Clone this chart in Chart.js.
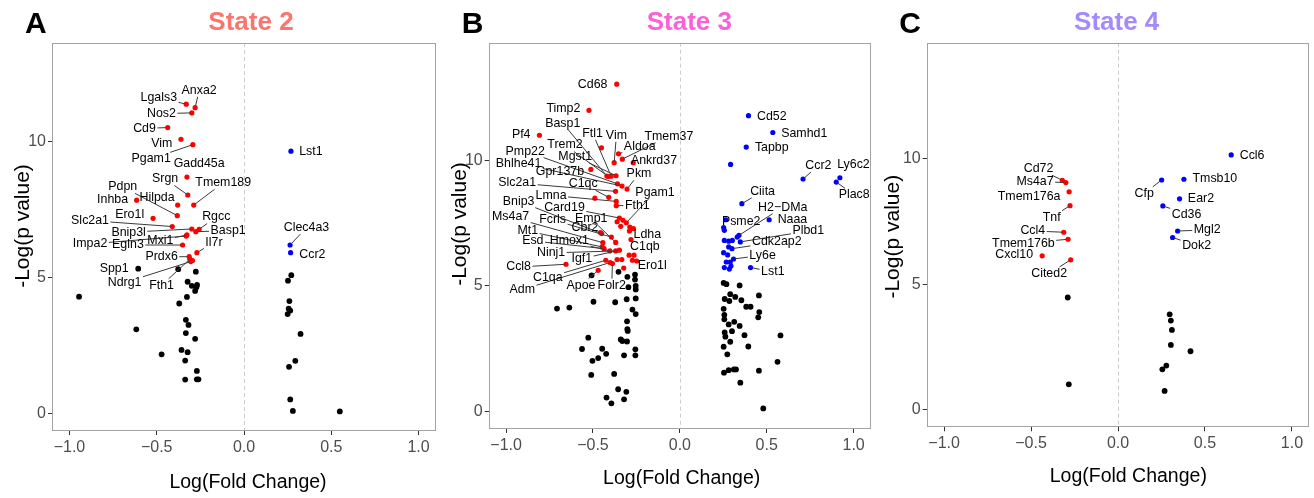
<!DOCTYPE html>
<html>
<head>
<meta charset="utf-8">
<script src="https://cdn.jsdelivr.net/npm/chart.js@4.4.1/dist/chart.umd.min.js"></script>
<style>
  html, body { margin: 0; padding: 0; background: #fff; }
  body { width: 1314px; height: 498px; position: relative; overflow: hidden; }
  .panel { position: absolute; top: 0; height: 498px; }
  canvas { display: block; }
</style>
</head>
<body>
<div class="panel" style="left:0px;width:440px"><canvas id="ca" width="440" height="498"></canvas></div>
<div class="panel" style="left:440px;width:435px"><canvas id="cb" width="435" height="498"></canvas></div>
<div class="panel" style="left:875px;width:439px"><canvas id="cc" width="439" height="498"></canvas></div>
<script>
// ---------------- DATA ----------------
const xTicks = [-1, -0.5, 0, 0.5, 1];
const yTicks = [0, 5, 10];

// State 2 : [gene, logFC, -log p]
const s2Down = [
  ['Lgals3',-0.331,11.39],['Anxa2',-0.280,11.26],['Nos2',-0.299,11.07],['Cd9',-0.437,10.53],
  ['Vim',-0.361,10.10],['Pgam1',-0.293,9.90],['Gadd45a',-0.327,8.71],['Srgn',-0.322,8.05],
  ['Tmem189',-0.288,7.68],['Hilpda',-0.380,7.68],['Inhba',-0.615,7.86],['Pdpn',-0.382,7.29],
  ['Ero1l',-0.521,7.19],['Slc2a1',-0.411,6.89],['Bnip3l',-0.299,6.80],['Basp1',-0.276,6.70],
  ['Rgcc',-0.257,6.79],['Mxi1',-0.327,6.58],['Impa2',-0.332,6.54],['Egln3',-0.352,6.21],
  ['Il7r',-0.270,5.93],['Prdx6',-0.314,5.78],['Fth1',-0.310,5.69],['',-0.295,5.64],['Ndrg1',-0.305,5.60]
];
const s2Up = [['Lst1',0.269,9.66],['Clec4a3',0.264,6.21],['Ccr2',0.267,5.93]];
const s2NS = [
  ['Spp1',-0.606,5.34],['',-0.377,5.32],['',-0.276,5.23],['',-0.323,4.86],['',-0.299,4.71],
  ['',-0.269,4.74],['',-0.273,4.66],['',-0.280,4.52],['',-0.945,4.31],['',-0.327,4.30],
  ['',-0.371,4.06],['',-0.333,3.46],['',-0.318,3.27],['',-0.617,3.11],['',-0.333,2.97],
  ['',-0.280,2.76],['',-0.358,2.35],['',-0.323,2.27],['',-0.472,2.19],['',-0.337,1.96],
  ['',-0.270,1.58],['',-0.337,1.26],['',-0.270,1.27],['',-0.261,1.27],
  ['',0.271,5.10],['',0.252,4.90],['',0.260,4.15],['',0.256,3.87],['',0.265,3.80],
  ['',0.250,3.67],['',0.324,2.94],['',0.294,1.95],['',0.258,1.73],['',0.265,0.53],
  ['',0.280,0.11],['',0.549,0.09]
];

// State 3
const s3Down = [
  ['Cd68',-0.363,13.02],['Timp2',-0.523,11.98],['Pf4',-0.808,10.99],['',-0.451,10.49],
  ['Aldoa',-0.353,10.25],['Tmem37',-0.331,10.04],['Vim',-0.378,9.90],['Ankrd37',-0.268,9.90],
  ['Gpr137b',-0.512,9.63],['Basp1',-0.420,9.37],['Trem2',-0.412,9.35],['Ftl1',-0.395,9.36],
  ['Mgst1',-0.367,9.38],['Pmp22',-0.359,9.06],['Bhlhe41',-0.333,8.97],['Pkm',-0.304,8.85],
  ['Slc2a1',-0.370,8.76],['C1qc',-0.409,8.52],['',-0.489,8.49],['Lmna',-0.366,8.36],
  ['Fth1',-0.366,8.19],['Card19',-0.348,7.70],['',-0.327,7.61],['Pgam1',-0.308,7.51],
  ['',-0.288,7.34],['',-0.267,7.28],['',-0.361,7.55],['',-0.340,7.37],['Ldha',-0.290,7.18],
  ['Cbr2',-0.457,7.12],['Bnip3',-0.450,7.08],['Fcrls',-0.394,6.94],['Emp1',-0.369,6.73],
  ['C1qb',-0.281,6.84],['Ms4a7',-0.443,6.72],['Mt1',-0.447,6.55],['Esd',-0.436,6.48],
  ['Hmox1',-0.403,6.39],['Ninj1',-0.369,6.39],['Igf1',-0.348,6.42],['Ccl8',-0.655,5.86],
  ['',-0.292,6.22],['',-0.264,6.22],['C1qa',-0.426,6.02],['Adm',-0.401,5.93],['Folr2',-0.388,5.89],
  ['',-0.361,6.05],['',-0.334,6.05],['',-0.273,6.02],['Ero1l',-0.248,5.99],['',-0.323,5.71],
  ['Apoe',-0.470,5.62]
];
const s3Up = [
  ['Cd52',0.395,11.77],['Samhd1',0.535,11.10],['Tapbp',0.382,10.52],['',0.292,9.83],
  ['Ccr2',0.709,9.25],['Ly6c2',0.921,9.30],['Plac8',0.900,9.13],['Ciita',0.357,8.27],
  ['Naaa',0.514,7.63],['Psme2',0.264,7.63],['',0.252,7.32],['',0.256,7.21],['',0.256,6.81],
  ['',0.281,6.78],['',0.302,6.81],['',0.330,6.94],['H2\u2212DMa',0.340,7.01],['Plbd1',0.348,6.75],
  ['',0.281,6.55],['Cdk2ap2',0.300,6.48],['',0.252,6.32],['',0.275,6.23],['Ly6e',0.309,6.07],
  ['',0.267,5.95],['',0.290,5.95],['',0.256,5.73],['',0.285,5.67],['',0.294,5.79],['Lst1',0.407,5.73]
];
const s3NS = [
  ['',-0.508,5.42],['',-0.353,5.56],['',-0.302,5.36],['',-0.258,5.45],['',-0.258,5.25],
  ['',-0.296,4.95],['',-0.254,5.00],['',-0.254,4.86],['',-0.254,4.50],['',-0.306,4.47],
  ['',-0.707,4.10],['',-0.636,4.14],['',-0.497,4.37],['',-0.372,4.35],['',-0.273,4.06],
  ['',-0.254,3.88],['',-0.304,3.59],['',-0.302,3.28],['',-0.300,3.21],['',-0.527,2.94],
  ['',-0.340,2.87],['',-0.331,2.81],['',-0.304,2.79],['',-0.256,2.48],['',-0.256,2.24],
  ['',-0.563,2.49],['',-0.447,2.50],['',-0.424,2.30],['',-0.470,2.13],['',-0.503,2.02],
  ['',-0.321,2.24],['',-0.510,1.46],['',-0.378,1.50],['',-0.355,0.89],['',-0.308,0.79],
  ['',-0.422,0.56],['',-0.394,0.33],['',-0.321,0.49],
  ['',0.252,5.12],['',0.268,5.07],['',0.344,5.02],['',0.290,4.67],['',0.319,4.56],
  ['',0.258,4.48],['',0.285,4.40],['',0.354,4.43],['',0.455,4.62],['',0.382,4.17],
  ['',0.407,4.17],['',0.252,4.09],['',0.457,3.96],['',0.451,3.75],['',0.256,3.85],
  ['',0.256,3.67],['',0.281,3.47],['',0.313,3.57],['',0.344,3.41],['',0.258,3.15],
  ['',0.262,2.98],['',0.300,3.20],['',0.372,3.04],['',0.579,3.03],['',0.290,2.78],
  ['',0.252,2.58],['',0.394,2.59],['',0.273,2.28],['',0.562,1.98],['',0.254,1.55],
  ['',0.281,1.65],['',0.311,1.68],['',0.323,1.68],['',0.455,1.63],['',0.348,1.15],
  ['',0.480,0.13]
];

// State 4
const s4Down = [
  ['Cd72',-0.320,9.15],['Ms4a7',-0.300,9.06],['Tmem176a',-0.281,8.69],['Tnf',-0.276,8.14],
  ['Ccl4',-0.312,7.08],['Tmem176b',-0.287,6.80],['Cxcl10',-0.436,6.14],['Cited2',-0.272,5.98]
];
const s4Up = [
  ['Ccl6',0.651,10.16],['Tmsb10',0.379,9.19],['Cfp',0.251,9.16],['Ear2',0.354,8.41],
  ['Cd36',0.258,8.13],['Mgl2',0.343,7.13],['Dok2',0.314,6.87]
];
const s4NS = [
  ['',-0.289,4.48],['',-0.283,1.02],['',0.297,3.81],['',0.304,3.56],['',0.310,3.19],
  ['',0.304,2.59],['',0.417,2.34],['',0.278,1.77],['',0.255,1.62],['',0.268,0.76]
];

// ---------------- LABEL LAYOUT (label centre in data units, draw segment flag) ----------------
const s2LabelPos = {
  Lgals3:[-0.488,11.63,1], Anxa2:[-0.257,11.90,1], Nos2:[-0.473,11.04,1], Cd9:[-0.570,10.50,1],
  Vim:[-0.471,9.93,0], Pgam1:[-0.532,9.38,1], Gadd45a:[-0.257,9.20,0], Srgn:[-0.452,8.64,1],
  Tmem189:[-0.119,8.50,1], Pdpn:[-0.695,8.35,1], Inhba:[-0.753,7.87,0], Hilpda:[-0.498,7.95,0],
  Ero1l:[-0.655,7.32,0], Slc2a1:[-0.882,7.11,1], Rgcc:[-0.159,7.24,1], Bnip3l:[-0.661,6.68,1],
  Basp1:[-0.091,6.74,1], Impa2:[-0.882,6.25,1], Egln3:[-0.665,6.21,1], Mxi1:[-0.479,6.37,1],
  Il7r:[-0.172,6.30,1], Prdx6:[-0.472,5.78,1], Spp1:[-0.744,5.34,0], Ndrg1:[-0.684,4.83,1],
  Fth1:[-0.472,4.73,1], Lst1:[0.383,9.64,0], Clec4a3:[0.358,6.85,1], Ccr2:[0.392,5.86,0]
};
const s3LabelPos = {
  Cd68:[-0.502,13.02,0], Timp2:[-0.670,12.06,0], Pf4:[-0.913,11.03,0], Basp1:[-0.674,11.47,1],
  Ftl1:[-0.502,11.07,1], Vim:[-0.365,10.99,1], Tmem37:[-0.063,10.95,1], Aldoa:[-0.231,10.52,1],
  Ankrd37:[-0.149,9.99,1], Trem2:[-0.661,10.60,1], Pmp22:[-0.890,10.36,1], Mgst1:[-0.602,10.15,1],
  Bhlhe41:[-0.928,9.88,1], Gpr137b:[-0.690,9.56,0], Pkm:[-0.235,9.46,1], C1qc:[-0.556,9.06,1],
  Slc2a1:[-0.936,9.09,1], Lmna:[-0.741,8.60,1], Bnip3:[-0.928,8.37,1], Card19:[-0.664,8.13,1],
  Pgam1:[-0.143,8.73,1], Fth1:[-0.245,8.20,1], Ms4a7:[-0.974,7.74,1], Fcrls:[-0.732,7.63,1],
  Emp1:[-0.510,7.66,1], Cbr2:[-0.546,7.33,1], Mt1:[-0.875,7.18,1], Esd:[-0.846,6.79,1],
  Hmox1:[-0.636,6.79,1], Ninj1:[-0.741,6.31,1], Igf1:[-0.564,6.08,1], Ccl8:[-0.928,5.75,1],
  C1qa:[-0.760,5.33,1], Adm:[-0.907,4.85,1], Apoe:[-0.569,5.03,1], Folr2:[-0.392,5.03,1],
  Ldha:[-0.187,7.04,1], C1qb:[-0.201,6.55,1], Ero1l:[-0.159,5.79,1],
  Cd52:[0.529,11.75,0], Samhd1:[0.716,11.07,0], Tapbp:[0.529,10.48,0], Ccr2:[0.797,9.78,1],
  Ly6c2:[0.999,9.81,0], Plac8:[1.003,8.62,1], Ciita:[0.476,8.76,1], 'H2\u2212DMa':[0.592,8.13,1],
  Naaa:[0.648,7.65,0], Psme2:[0.353,7.54,0], Plbd1:[0.739,7.18,1], Cdk2ap2:[0.558,6.75,1],
  Ly6e:[0.476,6.22,1], Lst1:[0.535,5.56,1]
};
const s4LabelPos = {
  Cd72:[-0.457,9.61,1], Ms4a7:[-0.477,9.10,1], Tmem176a:[-0.511,8.50,0], Tnf:[-0.381,7.68,1],
  Ccl4:[-0.490,7.13,1], Tmem176b:[-0.544,6.64,1], Cxcl10:[-0.597,6.18,0], Cited2:[-0.396,5.44,1],
  Ccl6:[0.771,10.15,0], Tmsb10:[0.557,9.20,0], Cfp:[0.151,8.63,1], Ear2:[0.477,8.41,0],
  Cd36:[0.394,7.80,1], Mgl2:[0.513,7.17,1], Dok2:[0.452,6.55,1]
};

// ---------------- STYLE / LAYOUT ----------------
const FONT = '"Liberation Sans", Arial, Helvetica, sans-serif';
const LABEL_FONT = '12.4px ' + FONT;
Chart.defaults.font.family = FONT;

const panels = [
  { canvas:'ca', title:'State 2', titleColor:'#F8766D', letter:'A',
    down:s2Down, up:s2Up, ns:s2NS, labels:s2LabelPos, ymin:-0.63, ymax:13.64,
    pad:{left:0,right:2,top:43,bottom:0}, yW:52, xH:67,
    letterX:25, titleX:251, xTitleX:248, xTitleY:487.5, yTitleX:29, yTitleY:226 },
  { canvas:'cb', title:'State 3', titleColor:'#FB61D7', letter:'B',
    down:s3Down, up:s3Up, ns:s3NS, labels:s3LabelPos, ymin:-0.69, ymax:14.67,
    pad:{left:0,right:1.7,top:42.7,bottom:0}, yW:48.7, xH:69,
    letterX:21.7, titleX:249.3, xTitleX:241.7, xTitleY:484, yTitleX:25.6, yTitleY:224 },
  { canvas:'cc', title:'State 4', titleColor:'#A58AFF', letter:'C',
    down:s4Down, up:s4Up, ns:s4NS, labels:s4LabelPos, ymin:-0.69, ymax:14.63,
    pad:{left:0,right:4.7,top:42.7,bottom:0}, yW:51.7, xH:70.7,
    letterX:24.3, titleX:241.7, xTitleX:253.3, xTitleY:482.3, yTitleX:23.9, yTitleY:236.7 }
];

function toXY(group) { return group.map(p => ({x: p[1], y: p[2]})); }

function makePanelPlugin(cfg) {
  return {
    id: 'panel' + cfg.letter,
    beforeDatasetsDraw(chart) {
      const {ctx, chartArea: a} = chart;
      const x0 = Math.round(chart.scales.x.getPixelForValue(0)) + 0.5;
      ctx.save();
      ctx.strokeStyle = '#cccccc'; ctx.lineWidth = 1; ctx.setLineDash([4, 3]);
      ctx.beginPath(); ctx.moveTo(x0, a.top); ctx.lineTo(x0, a.bottom); ctx.stroke();
      ctx.restore();
    },
    afterDatasetsDraw(chart) {
      const {ctx} = chart;
      const xs = chart.scales.x, ys = chart.scales.y;
      const pts = {};
      [cfg.ns, cfg.down, cfg.up].forEach(g => g.forEach(p => { if (p[0]) pts[p[0]] = p; }));
      ctx.save();
      ctx.font = LABEL_FONT;
      const items = Object.keys(cfg.labels).map(name => {
        const p = pts[name], L = cfg.labels[name];
        return { name, px: xs.getPixelForValue(p[1]), py: ys.getPixelForValue(p[2]),
                 lx: xs.getPixelForValue(L[0]), ly: ys.getPixelForValue(L[1]),
                 seg: L[2], w: ctx.measureText(name).width };
      });
      ctx.strokeStyle = '#3a3a3a'; ctx.lineWidth = 1;
      items.forEach(it => {
        if (!it.seg) return;
        const hw = it.w / 2 + 1.5, hh = 6.5;
        const dx = it.px - it.lx, dy = it.py - it.ly;
        let t = 1;
        if (dx) t = Math.min(t, hw / Math.abs(dx));
        if (dy) t = Math.min(t, hh / Math.abs(dy));
        const sx = it.lx + dx * t, sy = it.ly + dy * t;
        const rx = it.px - sx, ry = it.py - sy, len = Math.hypot(rx, ry);
        if (len < 3) return;
        const ex = it.px - rx / len * 1.5, ey = it.py - ry / len * 1.5;
        ctx.beginPath(); ctx.moveTo(sx, sy); ctx.lineTo(ex, ey); ctx.stroke();
      });
      ctx.fillStyle = '#000'; ctx.textAlign = 'center'; ctx.textBaseline = 'middle';
      items.forEach(it => ctx.fillText(it.name, it.lx, it.ly));
      ctx.restore();
    },
    afterDraw(chart) {
      const {ctx, chartArea: a} = chart;
      ctx.save();
      ctx.strokeStyle = '#a3a3a3'; ctx.lineWidth = 1;
      ctx.strokeRect(Math.round(a.left) + 0.5, Math.round(a.top) + 0.5,
                     Math.round(a.right) - Math.round(a.left) - 1, Math.round(a.bottom) - Math.round(a.top) - 1);
      ctx.textBaseline = 'alphabetic';
      ctx.fillStyle = '#000'; ctx.textAlign = 'left';
      ctx.font = 'bold 30px ' + FONT;
      ctx.fillText(cfg.letter, cfg.letterX, 33.3);
      ctx.fillStyle = cfg.titleColor; ctx.textAlign = 'center';
      ctx.font = 'bold 26px ' + FONT;
      ctx.fillText(cfg.title, cfg.titleX, 29.5);
      ctx.fillStyle = '#000';
      ctx.font = '19.5px ' + FONT;
      ctx.fillText('Log(Fold Change)', cfg.xTitleX, cfg.xTitleY);
      ctx.translate(cfg.yTitleX, cfg.yTitleY);
      ctx.rotate(-Math.PI / 2);
      ctx.font = '21px ' + FONT;
      ctx.fillText('-Log(p value)', 0, 0);
      ctx.restore();
    }
  };
}

panels.forEach(cfg => {
  new Chart(document.getElementById(cfg.canvas), {
    type: 'scatter',
    data: {
      datasets: [
        { data: toXY(cfg.ns), backgroundColor: '#000000', pointRadius: 2.9, borderWidth: 0 },
        { data: toXY(cfg.down), backgroundColor: '#FF0000', pointRadius: 2.6, borderWidth: 0 },
        { data: toXY(cfg.up), backgroundColor: '#0000FF', pointRadius: 2.6, borderWidth: 0 }
      ]
    },
    options: {
      responsive: false, animation: false, devicePixelRatio: 1, events: [],
      layout: { padding: cfg.pad },
      plugins: { legend: { display: false }, tooltip: { enabled: false }, title: { display: false } },
      scales: {
        x: {
          type: 'linear', min: -1.1, max: 1.1,
          afterBuildTicks: s => { s.ticks = xTicks.map(v => ({value: v})); },
          afterFit: s => { s.height = cfg.xH; },
          grid: { drawOnChartArea: false, drawTicks: true, tickLength: 4, color: '#333333', lineWidth: 1 },
          border: { display: false },
          ticks: { color: '#4D4D4D', font: { size: 16 }, padding: 3, maxRotation: 0,
                   callback: v => (v < 0 ? '\u2212' : '') + Math.abs(v).toFixed(1) }
        },
        y: {
          type: 'linear', min: cfg.ymin, max: cfg.ymax,
          afterBuildTicks: s => { s.ticks = yTicks.map(v => ({value: v})); },
          afterFit: s => { s.width = cfg.yW; },
          grid: { drawOnChartArea: false, drawTicks: true, tickLength: 4, color: '#333333', lineWidth: 1 },
          border: { display: false },
          ticks: { color: '#4D4D4D', font: { size: 16 }, padding: 2, callback: v => String(v) }
        }
      }
    },
    plugins: [makePanelPlugin(cfg)]
  });
});
</script>
</body>
</html>
